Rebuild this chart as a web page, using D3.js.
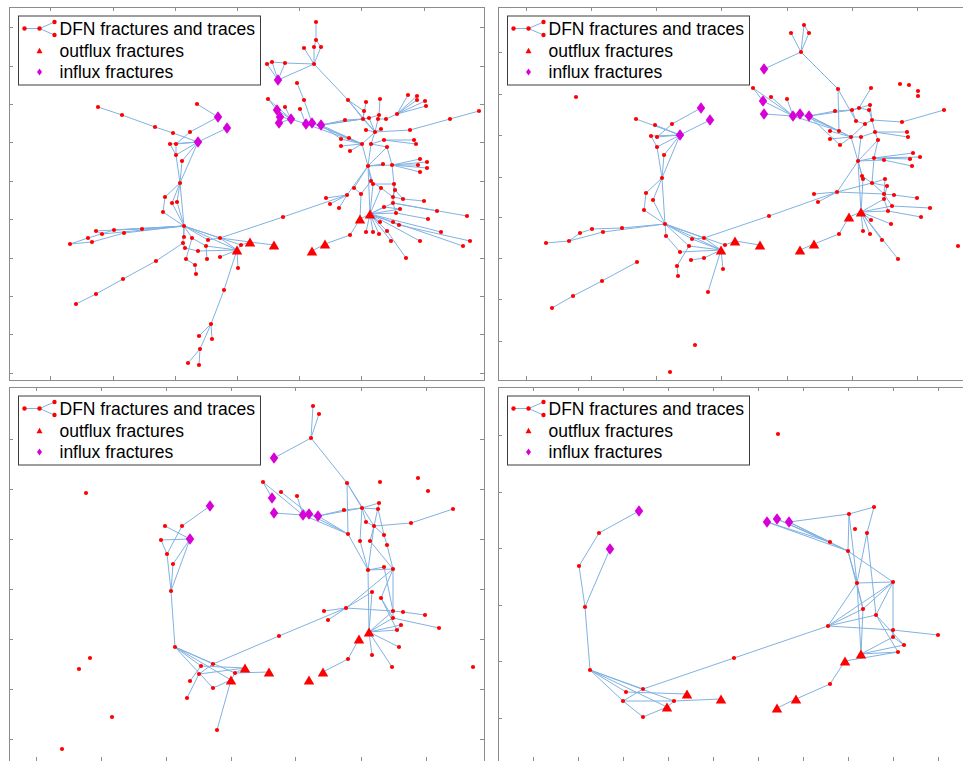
<!DOCTYPE html>
<html>
<head>
<meta charset="utf-8">
<script src="https://d3js.org/d3.v7.min.js"></script>
<style>
  html, body { margin: 0; padding: 0; background: #fff; }
  svg { display: block; }
  .legend text { font-family: "Liberation Sans", Arial, Helvetica, sans-serif; font-size: 17.5px; fill: #000; }
</style>
</head>
<body>
<svg id="fig" width="963" height="761"></svg>
<script>
// node lists: [id, x, y, kind]  kind: n = fracture, t = outflux, d = influx
// coordinates are read off the picture (arbitrary plot units, y grows downward)

// ---------- panel 1 ----------
const nodes1 = [
  ["a1",98,107,"n"],["a2",122,115,"n"],["a3",155,127,"n"],["a4",173,133,"n"],["a5",190,132,"n"],["a6",197,104,"n"],
  ["D1",218,117,"d"],["D2",227,128,"d"],["D3",198,142,"d"],
  ["a7",170,144,"n"],["a8",176,144,"n"],["a9",176,155,"n"],["a10",182,161,"n"],["a11",180,183,"n"],["a12",165,197,"n"],
  ["a13",172,203,"n"],["a14",177,202,"n"],["a15",163,212,"n"],["H1",184,226,"n"],
  ["b1",142,229,"n"],["b2",124,233,"n"],["b3",114,230,"n"],["b4",102,234,"n"],["b5",96,231,"n"],["b6",88,238,"n"],["b7",92,242,"n"],["b8",70,244,"n"],
  ["c1",184,237,"n"],["c2",192,238,"n"],["c3",183,243,"n"],["c4",208,240,"n"],["c5",220,238,"n"],["c6",206,246,"n"],["c7",185,248,"n"],["c8",198,251,"n"],
  ["T1",237,250,"t"],["T2",250,242,"t"],["c9",241,245,"n"],["c10",220,257,"n"],["c11",207,259,"n"],["c12",186,259,"n"],["c13",195,265,"n"],["c14",196,274,"n"],["c15",238,268,"n"],
  ["e1",156,261,"n"],["e2",123,279,"n"],["e3",96,294,"n"],["e4",76,304,"n"],
  ["f1",224,290,"n"],["f2",211,324,"n"],["f3",199,336,"n"],["f4",212,339,"n"],["f5",200,349,"n"],["f6",188,363,"n"],["f7",199,365,"n"],
  ["g1",283,217,"n"],["T3",274,245,"t"],["T4",312,251,"t"],["T5",325,244,"t"],
  ["r1",316,22,"n"],["r2",316,40,"n"],["r3",314,47,"n"],["r4",321,47,"n"],["r5",304,48,"n"],["R1",314,64,"n"],
  ["r6",267,64,"n"],["r7",272,62,"n"],["r8",285,63,"n"],["D4",278,80,"d"],["r9",297,83,"n"],["r10",304,100,"n"],
  ["r11",268,99,"n"],["r12",285,107,"n"],["r13",300,109,"n"],
  ["D5",277,110,"d"],["D6",280,117,"d"],["D7",279,123,"d"],["D8",291,119,"d"],["D9",306,124,"d"],["D10",312,123,"d"],["D11",321,125,"d"],
  ["s1",348,100,"n"],["s2",366,102,"n"],["s3",380,99,"n"],["s4",364,111,"n"],["s5",345,120,"n"],["s6",363,119,"n"],["s7",369,118,"n"],
  ["s8",379,115,"n"],["s9",378,119,"n"],["s10",386,119,"n"],["s11",397,114,"n"],["s12",408,95,"n"],["s13",417,96,"n"],["s14",417,100,"n"],
  ["s15",425,101,"n"],["s16",426,106,"n"],["s17",479,111,"n"],["s18",450,119,"n"],["s19",410,130,"n"],["s20",366,130,"n"],["s21",381,129,"n"],
  ["s22",375,132,"n"],["s23",341,139,"n"],["s24",349,138,"n"],["s25",384,140,"n"],["s26",414,140,"n"],["s27",416,144,"n"],["s28",341,146,"n"],
  ["s29",350,151,"n"],["H2",362,144,"n"],["s30",371,144,"n"],["s31",387,147,"n"],["H3",368,166,"n"],["s32",383,164,"n"],["s33",392,165,"n"],
  ["s34",420,159,"n"],["s35",427,162,"n"],["s36",418,165,"n"],["s37",427,168,"n"],["s38",420,172,"n"],["s39",371,181,"n"],["s40",373,184,"n"],
  ["s41",394,184,"n"],["s42",381,188,"n"],["s43",395,190,"n"],["s44",354,188,"n"],["s45",361,194,"n"],["s46",347,195,"n"],["s47",326,198,"n"],
  ["s48",330,204,"n"],["s49",339,208,"n"],["s50",393,197,"n"],["s51",403,199,"n"],["s52",393,203,"n"],["s53",424,201,"n"],["s54",384,207,"n"],
  ["s55",400,209,"n"],["s56",396,213,"n"],["s57",437,211,"n"],["s58",467,216,"n"],["s59",428,219,"n"],["T6",370,214,"t"],["T7",360,219,"t"],
  ["s60",380,222,"n"],["s61",393,222,"n"],["s62",399,225,"n"],["s63",366,232,"n"],["s64",373,232,"n"],["s65",379,234,"n"],["s66",387,231,"n"],
  ["s67",391,241,"n"],["s68",420,241,"n"],["s69",441,232,"n"],["s70",463,246,"n"],["s71",470,241,"n"],["s72",406,258,"n"],["s73",350,235,"n"]
];
const edges1 = "a1-a2 a2-a3 a3-a4 a4-D3 a6-D1 D1-a5 a5-a8 D2-D3 D3-a7 D3-a8 D3-a9 D3-a10 D3-a11 a7-a9 a8-a9 a9-a11 a10-a11 a11-a12 a11-a13 a11-a14 a11-H1 a12-a15 a13-H1 a14-H1 a15-H1 " +
  "H1-b1 H1-b2 H1-b3 H1-b5 b8-b6 b8-b7 b6-b3 b7-b2 b5-b4 b4-H1 b1-b3 H1-c1 H1-c2 H1-c3 H1-c4 H1-c5 H1-T1 H1-c9 c4-c5 c5-T1 c2-c6 c3-c7 c7-c8 c8-T1 c6-T1 c10-T1 c11-c6 " +
  "c12-c13 c13-c14 c2-c12 c15-T1 T1-f1 f1-f2 f2-f3 f2-f4 f2-f5 f5-f6 f5-f7 e1-e2 e2-e3 e3-e4 e1-c3 T1-c9 c9-T2 c5-T2 T2-T3 c5-g1 g1-s46 T4-T5 T5-s73 s73-T7 " +
  "r1-r2 r2-r3 r2-r4 r3-R1 r4-R1 r5-R1 R1-r8 R1-D4 r6-r7 r7-r8 r6-D4 r7-D4 r8-D4 R1-s1 s1-s4 s1-s6 s1-s22 r9-r10 r10-D10 r11-D5 r11-D8 r12-D8 r13-D9 D5-D8 D6-D8 D7-D8 " +
  "D8-D9 D9-D10 D10-D11 D11-s5 D11-s6 D11-H2 D10-H2 D9-H2 D11-s23 D10-s24 D11-s7 s2-s6 s3-s8 s4-s6 s5-s6 s6-s7 s7-s8 s8-s9 s9-s10 s10-s11 s11-s12 s11-s13 s11-s14 s11-s15 " +
  "s11-s16 s6-s22 s7-s22 s9-s22 s22-s20 s22-s21 s22-H2 s22-s30 s19-s22 s17-s19 s30-s25 s25-s26 s25-s27 s30-s31 H2-s23 H2-s24 H2-s28 H2-s29 H2-H3 s30-H3 s31-H3 s31-s33 " +
  "H3-s32 H3-s33 s33-s34 s33-s35 s33-s36 s33-s37 s33-s38 s33-s41 H3-s39 H3-s40 H3-s44 H3-s46 s39-s42 s40-s41 s41-s43 s42-s50 s43-s50 s41-s52 s43-s51 s50-s51 s51-s53 " +
  "s52-s57 s52-s56 s54-s55 s56-s59 s46-s47 s46-s48 s46-s49 s44-s45 s45-s39 T6-s54 T6-s56 T6-s55 T6-s42 T6-s52 s52-s58 T6-s60 T6-s61 T6-s62 T6-s63 T6-s64 T6-s65 " +
  "T6-s66 T6-s67 T6-s68 T6-s69 s61-s70 s62-s71 s66-s72 T7-T6 H3-T6 s40-T6 s45-T7";
const xExtent1 = [9, 484], yExtent1 = [7, 380];
const xTicks1 = [50, 113, 175, 237, 299, 361, 424];
const yTicks1 = [27, 66, 104, 142, 181, 219, 258, 296, 334, 373];

// ---------- panel 2 ----------
const nodes2 = [
  ["i1",576,97,"n"],["a1",636,119,"n"],["a2",655,125,"n"],["a3",672,124,"n"],["D1",701,108,"d"],["D2",710,120,"d"],["D3",680,135,"d"],
  ["a4",651,136,"n"],["a5",657,137,"n"],["a6",657,147,"n"],["a7",664,155,"n"],["a8",662,178,"n"],["a9",646,193,"n"],["a10",653,200,"n"],
  ["a11",644,210,"n"],["H1",665,224,"n"],
  ["b1",546,243,"n"],["b2",569,241,"n"],["b3",580,233,"n"],["b4",592,229,"n"],["b5",603,232,"n"],["b6",622,228,"n"],
  ["c1",666,236,"n"],["c2",692,239,"n"],["c3",704,238,"n"],["c4",689,246,"n"],["c5",680,252,"n"],["T1",721,250,"t"],["c6",725,245,"n"],
  ["c7",704,258,"n"],["c8",691,260,"n"],["c9",677,266,"n"],["c10",678,276,"n"],["c11",723,269,"n"],["c12",708,292,"n"],
  ["e1",637,262,"n"],["e2",602,281,"n"],["e3",573,296,"n"],["e4",552,308,"n"],["i2",695,345,"n"],["i3",670,372,"n"],
  ["r1",804,25,"n"],["r2",791,33,"n"],["r3",809,33,"n"],["R1",801,52,"n"],["D4",764,69,"d"],
  ["r4",753,88,"n"],["r5",771,97,"n"],["r6",787,99,"n"],["D5",763,101,"d"],["D6",764,114,"d"],["D7",793,116,"d"],["D8",800,114,"d"],["D9",809,116,"d"],
  ["i4",900,84,"n"],["i5",909,85,"n"],["i6",918,91,"n"],["i7",918,96,"n"],
  ["s1",838,89,"n"],["s2",871,88,"n"],["s3",835,111,"n"],["s4",852,110,"n"],["s5",859,108,"n"],["s6",869,110,"n"],["s7",870,105,"n"],
  ["s8",856,121,"n"],["s9",865,124,"n"],["s10",872,120,"n"],["s11",944,110,"n"],["s12",902,122,"n"],["s13",839,131,"n"],["s14",830,131,"n"],
  ["s15",830,139,"n"],["s16",840,145,"n"],["s17",851,137,"n"],["s18",861,137,"n"],["s19",875,132,"n"],["s20",878,140,"n"],["s21",907,132,"n"],
  ["s22",908,137,"n"],["H2",858,161,"n"],["s23",874,158,"n"],["s24",884,160,"n"],["s25",913,153,"n"],["s26",920,157,"n"],["s27",910,159,"n"],
  ["s28",912,166,"n"],["s29",862,176,"n"],["s30",863,179,"n"],["s31",872,183,"n"],["s32",885,179,"n"],["s33",887,186,"n"],["s34",814,194,"n"],
  ["s35",818,202,"n"],["s36",837,192,"n"],["s37",884,194,"n"],["s38",894,195,"n"],["s39",884,199,"n"],["s40",917,198,"n"],["s41",892,206,"n"],
  ["s42",888,211,"n"],["s43",930,208,"n"],["s44",921,217,"n"],["T6",861,212,"t"],["T7",849,217,"t"],["s45",871,220,"n"],["s46",891,224,"n"],
  ["s47",863,231,"n"],["s48",870,234,"n"],["s49",882,240,"n"],["s50",898,259,"n"],["s51",839,234,"n"],["T5",814,244,"t"],["T4",800,250,"t"],
  ["T3",760,245,"t"],["T2",735,241,"t"],["g1",769,216,"n"],["i8",958,246,"n"]
];
const edges2 = "a1-D3 a2-D3 a3-D1 a3-a5 D2-D3 D3-a4 D3-a5 D3-a6 D3-a7 D3-a8 a4-a6 a6-a8 a7-a8 a8-a9 a8-a10 a8-H1 a9-a11 a11-H1 a10-H1 b1-b2 b2-b3 b3-b4 b4-b6 b6-H1 " +
  "b2-b5 b5-H1 H1-c1 H1-c2 H1-c3 H1-T1 H1-c6 H1-c4 c1-c5 c2-c3 c5-T1 c4-T1 c2-T1 c7-T1 c8-c7 c9-c4 c9-c10 c3-T1 c11-T1 c12-T1 e1-e2 e2-e3 e3-e4 c6-T2 T2-T3 c3-g1 g1-s36 " +
  "r1-R1 r2-R1 r3-R1 r1-r3 R1-D4 R1-s1 s1-s8 s1-s13 s2-s5 r4-D5 r4-D7 r5-D7 r6-D7 D5-D7 D6-D7 D7-D8 D8-D9 D9-s3 D9-s4 D9-s13 D9-s17 D8-s13 D7-s13 D9-s16 s3-s4 " +
  "s4-s5 s4-s7 s5-s6 s4-s8 s6-s10 s7-s10 s8-s9 s9-s10 s10-s12 s12-s11 s13-s17 s14-s17 s15-s17 s16-s17 s17-s18 s18-s19 s19-s21 s19-s22 s19-s20 s18-H2 s17-H2 s20-H2 " +
  "s9-s17 s10-s19 s20-s23 s23-s25 s23-s26 s23-s27 s23-s28 H2-s23 H2-s24 H2-s29 H2-s30 H2-s36 s23-s31 s29-s31 s31-s32 s31-s33 s32-s37 s33-s39 s31-s37 s36-s34 s36-s35 " +
  "s36-s31 s36-s37 s37-s38 s38-s40 s37-s41 s39-s42 s41-s43 s42-s44 T6-s42 T6-s41 T6-s39 T6-s30 T6-H2 T6-s45 T6-s46 T6-s47 T6-s48 T6-s49 T6-s50 T6-T7 T7-s51 s51-T5 T5-T4";
const xExtent2 = [498, 968], yExtent2 = [7, 380];
const xTicks2 = [526, 591, 656, 721, 787, 852, 917];
const yTicks2 = [52, 94, 135, 177, 217, 258, 299, 341];

// ---------- panel 3 ----------
const nodes3 = [
  ["i1",86,493,"n"],["i2",90,658,"n"],["i3",79,669,"n"],["i4",112,717,"n"],["i5",62,749,"n"],
  ["D1",210,506,"d"],["a1",182,526,"n"],["a2",165,526,"n"],["D2",190,539,"d"],["a3",161,540,"n"],["a4",167,554,"n"],["a5",173,564,"n"],
  ["a6",171,591,"n"],["H1",175,647,"n"],["c1",201,666,"n"],["c2",213,664,"n"],["T1",245,668,"t"],["c3",235,673,"n"],["c4",199,674,"n"],
  ["c5",190,681,"n"],["T2",231,680,"t"],["c6",213,688,"n"],["c7",187,698,"n"],["c8",217,730,"n"],["g1",279,636,"n"],
  ["r1",313,406,"n"],["r2",319,414,"n"],["R1",311,438,"n"],["D3",274,458,"d"],["r3",263,482,"n"],["r4",281,492,"n"],["r5",297,496,"n"],
  ["D4",272,498,"d"],["D5",274,513,"d"],["D6",303,515,"d"],["D7",309,514,"d"],["D8",318,516,"d"],
  ["s1",347,483,"n"],["s2",380,482,"n"],["s3",418,478,"n"],["s4",428,491,"n"],["s5",344,510,"n"],["s6",362,508,"n"],["s7",378,509,"n"],
  ["s8",379,503,"n"],["s9",453,509,"n"],["s10",366,522,"n"],["s11",374,526,"n"],["s12",411,523,"n"],["s13",384,535,"n"],["s14",348,534,"n"],
  ["s15",360,541,"n"],["s16",370,541,"n"],["s17",387,545,"n"],["H2",368,570,"n"],["s18",384,567,"n"],["s19",393,569,"n"],["s20",372,592,"n"],
  ["s21",381,598,"n"],["H3",346,608,"n"],["s22",324,611,"n"],["s23",328,620,"n"],["s24",393,611,"n"],["s25",403,612,"n"],["s26",393,618,"n"],
  ["s27",425,615,"n"],["s28",401,625,"n"],["s29",397,630,"n"],["s30",439,628,"n"],["T3",369,632,"t"],["T4",359,639,"t"],["s31",399,647,"n"],
  ["s32",372,655,"n"],["s33",392,667,"n"],["s34",348,659,"n"],["T5",323,672,"t"],["T6",309,680,"t"],["T7",269,672,"t"],["i6",473,667,"n"]
];
const edges3 = "D1-a1 a1-a4 a2-D2 a3-D2 a3-a4 D2-a5 D2-a6 a4-a6 a5-a6 a6-H1 H1-c2 H1-c1 H1-c3 H1-T2 H1-c6 c1-T1 c4-T1 c2-c4 c5-c1 c7-c4 c6-T2 T2-c8 T2-c3 c3-T1 c3-T7 " +
  "c2-g1 g1-H3 r1-R1 r2-R1 R1-D3 R1-s1 s1-s6 s1-s14 s1-s11 r3-D4 r3-D6 r4-D7 r5-D6 D5-D6 D6-D7 D7-D8 D8-s5 D8-s6 D8-s14 D7-s14 D6-s14 s5-s6 s6-s8 s6-s7 s6-s10 " +
  "s6-s15 s8-s11 s7-s13 s10-s11 s11-s12 s12-s9 s11-s13 s11-s16 s13-s17 s14-H2 s15-H2 s16-s19 s17-s19 s11-H2 H2-s18 H2-s19 H2-T3 s19-s21 s19-H3 s19-s26 s18-s24 " +
  "s20-H3 s20-T3 s21-s29 s21-s26 H3-s22 H3-s23 H3-s24 s24-s25 s25-s27 s26-s30 s28-s29 T3-s28 T3-s29 T3-s24 T3-s31 T3-s32 T3-s33 T3-s26 T4-s34 s34-T5";
const xExtent3 = [9, 484], yExtent3 = [387, 761];
const xTicks3 = [36, 101, 166, 231, 295, 361, 426];
const yTicks3 = [439, 489, 539, 589, 639, 689, 739];

// ---------- panel 4 ----------
const nodes4 = [
  ["i1",778,434,"n"],["D1",639,511,"d"],["D2",610,549,"d"],["a1",599,533,"n"],["a2",579,566,"n"],["a3",585,607,"n"],["H1",590,670,"n"],
  ["b1",626,692,"n"],["b2",643,689,"n"],["b3",623,701,"n"],["b4",674,701,"n"],["T1",687,694,"t"],["T2",667,707,"t"],["T3",721,699,"t"],
  ["b5",643,717,"n"],["g1",734,658,"n"],["g2",828,626,"n"],["D3",767,522,"d"],["D4",777,519,"d"],["D5",789,522,"d"],
  ["r1",849,514,"n"],["r2",874,507,"n"],["r3",855,529,"n"],["r4",867,533,"n"],["r5",830,542,"n"],["r6",848,551,"n"],["r7",857,583,"n"],
  ["r8",893,582,"n"],["r9",863,609,"n"],["r10",876,615,"n"],["r11",893,630,"n"],["r12",893,637,"n"],["r13",938,635,"n"],["r14",904,645,"n"],
  ["r15",898,652,"n"],["T4",861,654,"t"],["T5",845,661,"t"],["r16",830,684,"n"],["T6",796,699,"t"],["T7",777,708,"t"]
];
const edges4 = "D1-a1 a1-a2 a2-a3 a3-H1 D2-a3 H1-b2 H1-b1 H1-b3 H1-T2 H1-b4 b1-T1 b2-b3 b3-b4 b4-T3 b3-b5 b5-T2 T2-b4 b2-g1 g1-g2 D3-r5 D3-r6 D4-r5 D4-r6 D5-r1 " +
  "D5-r5 D5-r6 r1-r2 r2-r4 r1-r6 r1-r7 r4-r7 r4-r10 r6-r7 r6-r8 r6-r9 r7-r8 r7-T4 r8-r9 r8-r12 r8-r10 r9-T4 r10-r14 r10-r15 g2-r7 g2-r9 g2-r8 g2-r10 g2-r11 " +
  "r11-r13 r11-r12 r12-T4 T4-r14 T4-r15 T5-r15 T5-r16 r16-T6 T6-T7 r7-r9 r12-r14";
const xExtent4 = [498, 968], yExtent4 = [387, 761];
const xTicks4 = [533, 578, 623, 668, 713, 758, 803, 848, 893, 938];
const yTicks4 = [435, 492, 548, 605, 661, 718];

const legendLabels = ["DFN fractures and traces", "outflux fractures", "influx fractures"];

// ---------- drawing ----------
const svg = d3.select("#fig");
const edgeColor = "#80b2e2", nodeColor = "#ff0000", influxColor = "#d800d8", frameColor = "#8c8c8c";

const panels = [
  {nodes: nodes1, edges: edges1, xExt: xExtent1, yExt: yExtent1, xTicks: xTicks1, yTicks: yTicks1, box: [9, 7, 484, 380]},
  {nodes: nodes2, edges: edges2, xExt: xExtent2, yExt: yExtent2, xTicks: xTicks2, yTicks: yTicks2, box: [498, 7, 968, 380]},
  {nodes: nodes3, edges: edges3, xExt: xExtent3, yExt: yExtent3, xTicks: xTicks3, yTicks: yTicks3, box: [9, 387, 484, 761]},
  {nodes: nodes4, edges: edges4, xExt: xExtent4, yExt: yExtent4, xTicks: xTicks4, yTicks: yTicks4, box: [498, 387, 968, 761]}
];

const triPath = (w, h) => `M0,${-h/2}L${w/2},${h/2}L${-w/2},${h/2}Z`;
const diaPath = (w, h) => `M0,${-h/2}L${w/2},0L0,${h/2}L${-w/2},0Z`;

panels.forEach(p => {
  const [l, t, r, b] = p.box;
  const x = d3.scaleLinear().domain(p.xExt).range([l, r]);
  const y = d3.scaleLinear().domain(p.yExt).range([t, b]);
  const g = svg.append("g");

  const byId = {};
  p.nodes.forEach(d => byId[d[0]] = d);
  const links = p.edges.trim().split(/\s+/).map(s => s.split("-").map(k => byId[k]));

  g.selectAll("line.edge").data(links)
    .join("line")
    .attr("class", "edge")
    .attr("x1", d => x(d[0][1])).attr("y1", d => y(d[0][2]))
    .attr("x2", d => x(d[1][1])).attr("y2", d => y(d[1][2]))
    .attr("stroke", edgeColor)
    .attr("stroke-width", 1);

  g.selectAll("circle.node").data(p.nodes.filter(d => d[3] == "n"))
    .join("circle")
    .attr("class", "node")
    .attr("cx", d => x(d[1])).attr("cy", d => y(d[2]))
    .attr("r", 2.1)
    .attr("fill", nodeColor);

  g.selectAll("path.out").data(p.nodes.filter(d => d[3] == "t"))
    .join("path")
    .attr("class", "out")
    .attr("transform", d => `translate(${x(d[1])},${y(d[2])})`)
    .attr("d", triPath(10.5, 9))
    .attr("fill", nodeColor);

  g.selectAll("path.in").data(p.nodes.filter(d => d[3] == "d"))
    .join("path")
    .attr("class", "in")
    .attr("transform", d => `translate(${x(d[1])},${y(d[2])})`)
    .attr("d", diaPath(8.5, 11.5))
    .attr("fill", influxColor);

  // axes box with inward ticks on all sides
  g.append("rect")
    .attr("x", l + 0.5).attr("y", t + 0.5)
    .attr("width", r - l).attr("height", b - t)
    .attr("fill", "none").attr("stroke", frameColor);
  const tk = 4;
  p.xTicks.forEach(v => {
    const xv = Math.round(x(v)) + 0.5;
    g.append("line").attr("x1", xv).attr("x2", xv).attr("y1", t).attr("y2", t + tk).attr("stroke", frameColor);
    g.append("line").attr("x1", xv).attr("x2", xv).attr("y1", b).attr("y2", b - tk).attr("stroke", frameColor);
  });
  p.yTicks.forEach(v => {
    const yv = Math.round(y(v)) + 0.5;
    g.append("line").attr("y1", yv).attr("y2", yv).attr("x1", l).attr("x2", l + tk).attr("stroke", frameColor);
    g.append("line").attr("y1", yv).attr("y2", yv).attr("x1", r).attr("x2", r - tk).attr("stroke", frameColor);
  });

  // legend
  const lg = g.append("g").attr("class", "legend")
    .attr("transform", `translate(${l + 9.5},${t + 9})`);
  lg.append("rect")
    .attr("x", 0).attr("y", 0).attr("width", 242).attr("height", 69)
    .attr("fill", "#fff").attr("stroke", "#3c3c3c").attr("stroke-width", 1);
  const icon = [[6, 12.5], [21, 12.5], [36, 6], [36, 19]];
  [[0, 1], [1, 2], [1, 3]].forEach(([i, j]) => {
    lg.append("line")
      .attr("x1", icon[i][0]).attr("y1", icon[i][1])
      .attr("x2", icon[j][0]).attr("y2", icon[j][1])
      .attr("stroke", edgeColor).attr("stroke-width", 1);
  });
  lg.selectAll("circle").data(icon).join("circle")
    .attr("cx", d => d[0]).attr("cy", d => d[1]).attr("r", 2.2).attr("fill", nodeColor);
  lg.append("path").attr("transform", "translate(21,34.5)").attr("d", triPath(6, 5.5)).attr("fill", nodeColor);
  lg.append("path").attr("transform", "translate(21,56)").attr("d", diaPath(5, 7)).attr("fill", influxColor);
  lg.selectAll("text").data(legendLabels).join("text")
    .attr("x", 41)
    .attr("y", (d, i) => 19 + i * 21.5)
    .text(d => d);
});
</script>
</body>
</html>
